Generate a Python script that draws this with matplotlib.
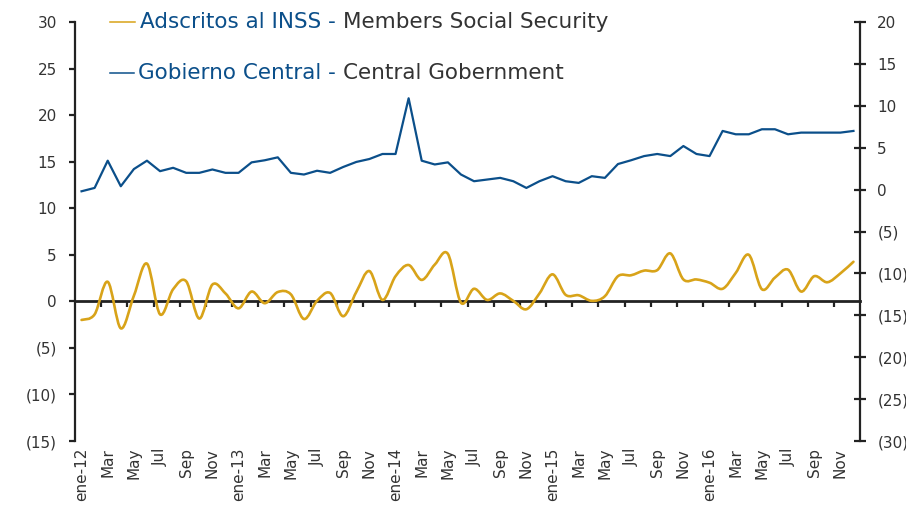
import numpy as np
import matplotlib
matplotlib.use('Agg')
import matplotlib.pyplot as plt
from matplotlib.path import Path
from matplotlib.patches import PathPatch
from matplotlib.lines import Line2D
from matplotlib.ticker import FuncFormatter

'''data: monthly, ene-2012 .. dic-2016'''
months = ['ene-12', 'Mar', 'May', 'Jul', 'Sep', 'Nov',
          'ene-13', 'Mar', 'May', 'Jul', 'Sep', 'Nov',
          'ene-14', 'Mar', 'May', 'Jul', 'Sep', 'Nov',
          'ene-15', 'Mar', 'May', 'Jul', 'Sep', 'Nov',
          'ene-16', 'Mar', 'May', 'Jul', 'Sep', 'Nov']

# Adscritos al INSS (left axis)
inss = [-2.0, -1.4, 2.1, -2.9, 0.6, 4.05, -1.4, 1.3, 2.15, -1.85, 1.8, 0.85,
        -0.75, 1.05, -0.2, 1.0, 0.75, -1.9, 0.05, 0.9, -1.6, 1.0, 3.25, 0.15,
        2.7, 3.9, 2.3, 3.95, 5.1, -0.15, 1.35, 0.15, 0.85, 0.05, -0.85, 0.85,
        2.9, 0.7, 0.65, 0.05, 0.55, 2.7, 2.8, 3.3, 3.35, 5.15, 2.35, 2.35,
        2.0, 1.35, 3.05, 5.0, 1.3, 2.55, 3.4, 1.05, 2.7, 2.05, 3.0, 4.25]

# Gobierno Central (right axis)
gob = [-0.2, 0.2, 3.45, 0.4, 2.45, 3.45, 2.2, 2.6, 2.0, 2.0, 2.4, 2.0,
       2.0, 3.25, 3.5, 3.85, 2.0, 1.8, 2.25, 2.0, 2.7, 3.3, 3.65, 4.25,
       4.25, 10.9, 3.45, 3.0, 3.25, 1.8, 1.0, 1.2, 1.4, 1.0, 0.2, 1.0,
       1.6, 1.0, 0.8, 1.6, 1.4, 3.05, 3.5, 4.0, 4.25, 4.0, 5.2, 4.25,
       4.0, 7.0, 6.6, 6.6, 7.2, 7.2, 6.6, 6.8, 6.8, 6.8, 6.8, 7.0]

gold = '#D8A319'
blue = '#0B4F8A'
txt = '#333333'

def paren(v, pos):
    v = int(round(v))
    return '(%d)' % -v if v < 0 else '%d' % v

def smooth_path(x, y):
    # excel-style smoothed line: cubic bezier through the points
    p = np.column_stack([x, y]).astype(float)
    n = len(p)
    verts = [p[0]]
    codes = [Path.MOVETO]
    for i in range(n - 1):
        p0 = p[i - 1] if i > 0 else p[i]
        p3 = p[i + 2] if i + 2 < n else p[i + 1]
        c1 = p[i] + (p[i + 1] - p0) / 6.0
        c2 = p[i + 1] - (p3 - p[i]) / 6.0
        verts += [c1, c2, p[i + 1]]
        codes += [Path.CURVE4] * 3
    return Path(verts, codes)

plt.rcParams['font.family'] = 'DejaVu Sans'
fig = plt.figure(figsize=(9.06, 5.08), dpi=100)
ax = fig.add_axes([75 / 906, 1 - 441 / 508, 785 / 906, 419 / 508])
ax2 = ax.twinx()

x = np.arange(len(inss))
ax.add_patch(PathPatch(smooth_path(x, inss), fill=False, edgecolor=gold, lw=1.9,
                       capstyle='round', joinstyle='round'))
ax2.plot(x, gob, color=blue, lw=1.6)

ax.set_xlim(-0.5, 59.5)
ax.set_ylim(-15, 30)
ax2.set_ylim(-30, 20)
ax.set_yticks(np.arange(-15, 31, 5))
ax2.set_yticks(np.arange(-30, 21, 5))
ax.yaxis.set_major_formatter(FuncFormatter(paren))
ax2.yaxis.set_major_formatter(FuncFormatter(paren))

for s in ['top', 'right', 'bottom']:
    ax.spines[s].set_visible(False)
for s in ['top', 'left', 'bottom']:
    ax2.spines[s].set_visible(False)
ax.spines['left'].set_color('#222222')
ax.spines['left'].set_linewidth(1.6)
ax2.spines['right'].set_color('#222222')
ax2.spines['right'].set_linewidth(1.6)

ax.tick_params(axis='y', direction='out', length=4, width=1.6, color='#222222',
               labelsize=11, labelcolor=txt, pad=9)
ax2.tick_params(axis='y', direction='inout', length=9, width=1.6, color='#222222',
                labelsize=11, labelcolor=txt, pad=8)

# category labels at the bottom
ax.set_xticks(x[::2])
ax.set_xticklabels(months, rotation=90, va='top', ha='center')
ax.tick_params(axis='x', length=0, labelsize=11, labelcolor=txt, pad=5)

# axis line crossing at zero with the small ticks between categories
zero = ax.secondary_xaxis(15 / 45)
zero.spines['bottom'].set_color('#222222')
zero.spines['bottom'].set_linewidth(2.0)
zero.set_xticks(np.arange(1.5, 59, 2))
zero.set_xticklabels([])
zero.tick_params(axis='x', direction='out', length=4, width=1.6, color='#222222')

# legend drawn by hand, two colours per entry
fig.add_artist(Line2D([110 / 906, 135 / 906], [1 - 22 / 508] * 2,
                      transform=fig.transFigure, color=gold, lw=1.1))
fig.add_artist(Line2D([110 / 906, 134 / 906], [1 - 73 / 508] * 2,
                      transform=fig.transFigure, color=blue, lw=1.1))
t1 = fig.text(140 / 906, 1 - 22 / 508, 'Adscritos al INSS - ', color=blue,
              fontsize=15.5, va='center', ha='left')
fig.canvas.draw()
ax.annotate('Members Social Security', xy=(1, 0), xycoords=t1, color=txt,
            fontsize=15.5, va='bottom', ha='left', annotation_clip=False)
t2 = fig.text(138 / 906, 1 - 73 / 508, 'Gobierno Central - ', color=blue,
              fontsize=15.5, va='center', ha='left')
ax.annotate('Central Gobernment', xy=(1, 0), xycoords=t2, color=txt,
            fontsize=15.5, va='bottom', ha='left', annotation_clip=False)

fig.savefig('out.png', dpi=100)
